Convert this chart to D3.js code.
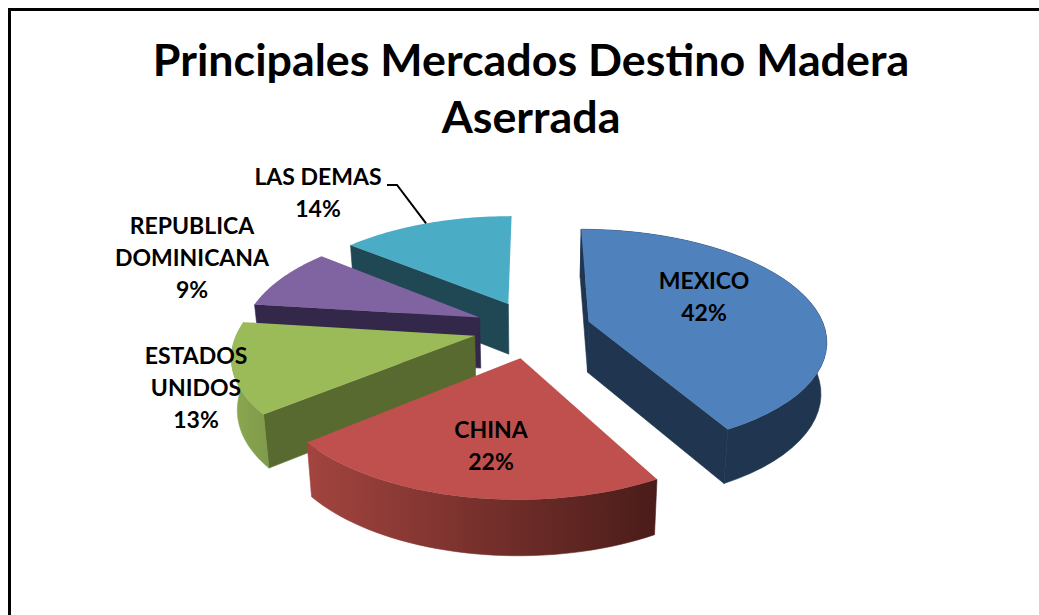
<!DOCTYPE html>
<html>
<head>
<meta charset="utf-8">
<script src="https://cdn.jsdelivr.net/npm/d3@7"></script>
<style>
  html, body { margin: 0; padding: 0; background: #fff; overflow: hidden; }
  text { font-family: Lato, "Open Sans", sans-serif; font-weight: 700; fill: #000; text-anchor: middle; }
</style>
</head>
<body>
<script>
// Datos
const categorias = ["MEXICO", "CHINA", "ESTADOS UNIDOS", "REPUBLICA DOMINICANA", "LAS DEMAS"];
const valores = [42, 22, 13, 9, 14];
const tituloLineas = ["Principales Mercados Destino Madera", "Aserrada"];

// Lineas de cada etiqueta
const etiquetas = [["MEXICO", "42%"], ["CHINA", "22%"], ["ESTADOS", "UNIDOS", "13%"], ["REPUBLICA", "DOMINICANA", "9%"], ["LAS DEMAS", "14%"]];

// Estilos por porcion
const colorTapa = ["#4f81bd", "#c0504d", "#9bbb59", "#8064a2", "#4bacc6"];
const colorCorte = ["#1f3550", "#7a2f2d", "#586a2f", "#33274a", "#1f4854"];
const colorBordeIni = ["#1f3550", "#a3443f", "#8ba850", "#33274a", "#1f4854"];
const colorBordeFin = ["#1f3550", "#4a1c19", "#7f9a4a", "#33274a", "#1f4854"];
const cortesVisibles = [["startAngle", "endAngle"], [], ["startAngle"], ["startAngle"], ["startAngle"]];
const paredVisible = [true, true, true, false, false];
const separacion = [58, 64, 60, 59, 60];
const etiquetaX = [704, 491, 196, 192, 318];
const etiquetaY = [289, 438, 364, 234, 185];
const etiquetaSalto = 32;

const W = 1039, H = 615;
const cx = 533, cy = 328;   // centro del pie
const R = 236;              // radio
const inclinacion = 0.46;   // achatamiento de la tapa
const distancia = 1500;     // perspectiva
const alto = 51;            // grosor del pie

const svg = d3.select("body").append("svg").attr("width", W).attr("height", H);

// Marco del grafico, se sale por la derecha y por abajo
svg.append("path")
  .attr("d", `M9.5,${H + 5}V9.5H${W + 5}`)
  .attr("fill", "none").attr("stroke", "#000").attr("stroke-width", 3);

svg.selectAll("text.titulo").data(tituloLineas).join("text")
  .attr("class", "titulo")
  .attr("x", 531)
  .attr("y", (_, i) => 76 + i * 57)
  .attr("font-size", 44.8)
  .text(d => d);

// Proyeccion: u hacia la derecha, v hacia el fondo, z hacia abajo
function proyectar(u, v, z) {
  const s = distancia / (distancia + v);
  const f = 1 - 0.02 * z;
  return [cx + u * s * f, cy - inclinacion * v * s + alto * (1 + (s - 1) * 0.4) * z];
}

const porciones = d3.pie().sort(null).startAngle(0).endAngle(2 * Math.PI)(valores);
const linea = d3.line();
const defs = svg.append("defs");

function dibujarPorcion(d) {
  const i = d.index;
  const medio = (d.startAngle + d.endAngle) / 2;
  const eu = separacion[i] * Math.sin(medio);
  const ev = separacion[i] * Math.cos(medio);
  const punto = (a, z) => proyectar(eu + R * Math.sin(a), ev + R * Math.cos(a), z);
  const apice = z => proyectar(eu, ev, z);
  const angulos = d3.range(0, 41).map(k => d.startAngle + (d.endAngle - d.startAngle) * k / 40);

  const g = svg.append("g");

  // Degradado de la pared curva
  const grad = defs.append("linearGradient").attr("id", "pared" + i);
  grad.append("stop").attr("offset", 0).attr("stop-color", colorBordeIni[i]);
  grad.append("stop").attr("offset", 1).attr("stop-color", colorBordeFin[i]);

  // Paredes interiores que se ven
  cortesVisibles[i].forEach(lado => {
    g.append("path")
      .attr("d", linea([apice(0), punto(d[lado], 0), punto(d[lado], 1), apice(1)]) + "Z")
      .attr("fill", colorCorte[i])
      .attr("stroke", colorCorte[i]).attr("stroke-width", 0.6);
  });

  // Pared exterior
  const arriba = angulos.map(a => punto(a, 0));
  const abajo = angulos.map(a => punto(a, 1)).reverse();
  if (paredVisible[i]) {
    const relleno = i === 1 || i === 2 ? `url(#pared${i})` : colorCorte[i];
    g.append("path")
      .attr("d", linea(arriba.concat(abajo)) + "Z")
      .attr("fill", relleno)
      .attr("stroke", relleno).attr("stroke-width", 0.6);
  }

  // Tapa
  g.append("path")
    .attr("d", linea([apice(0)].concat(arriba)) + "Z")
    .attr("fill", colorTapa[i]);
}

// Se pinta de atras hacia adelante
[4, 3, 2, 0, 1].forEach(i => dibujarPorcion(porciones[i]));

// Linea guia de LAS DEMAS, termina en el borde de su porcion
const pLas = porciones[4];
const aLas = (pLas.startAngle + pLas.endAngle) / 2;
const mLas = proyectar(
  (separacion[4] + R) * Math.sin(aLas),
  (separacion[4] + R) * Math.cos(aLas), 0);
svg.append("path")
  .attr("d", linea([[387, 185], [397, 185], mLas]))
  .attr("fill", "none").attr("stroke", "#000").attr("stroke-width", 2);

// Etiquetas
etiquetas.forEach((lineas, i) => {
  svg.selectAll(null).data(lineas).join("text")
    .attr("x", etiquetaX[i])
    .attr("y", (_, k) => etiquetaY[i] + k * etiquetaSalto)
    .attr("font-size", 23)
    .text(t => t);
});
</script>
</body>
</html>
